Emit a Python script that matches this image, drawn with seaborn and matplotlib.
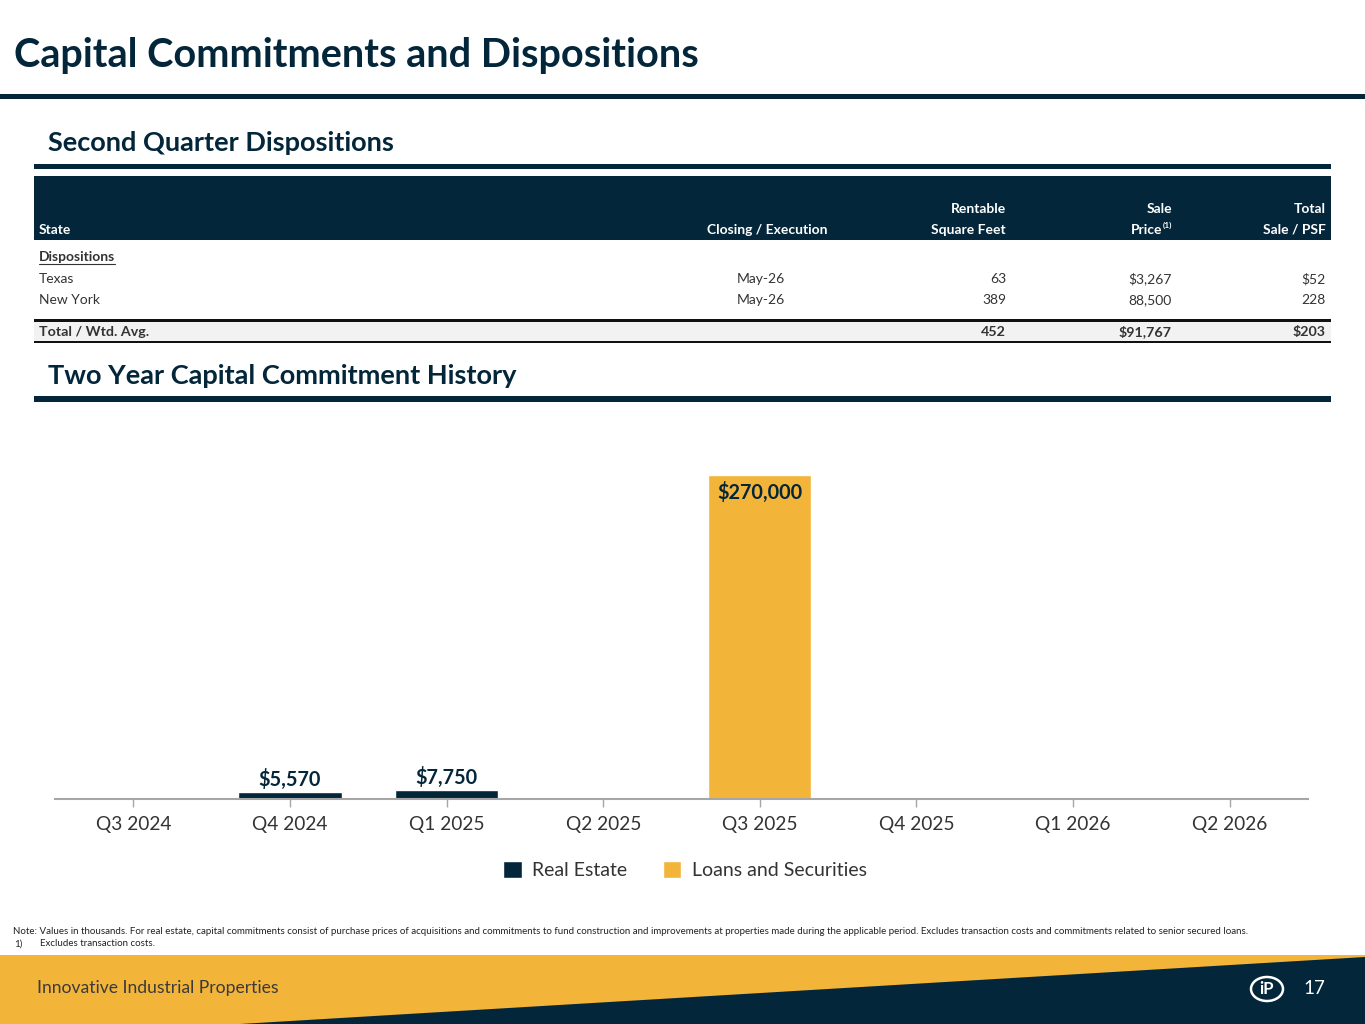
import numpy as np
import pandas as pd
import seaborn as sns
import matplotlib.pyplot as plt
from matplotlib.patches import Rectangle, Polygon, Circle
from matplotlib.lines import Line2D

NAVY = '#03263A'
GOLD = '#F3B43A'
GREY_TXT = '#333333'

# chart data (values in thousands)
quarters = ['Q3 2024', 'Q4 2024', 'Q1 2025', 'Q2 2025',
            'Q3 2025', 'Q4 2025', 'Q1 2026', 'Q2 2026']
real_estate = [0, 5570, 7750, 0, 0, 0, 0, 0]
loans_securities = [0, 0, 0, 0, 270000, 0, 0, 0]
series_names = ['Real Estate', 'Loans and Securities']

# table data
states = ['Texas', 'New York']
closing = ['May-26', 'May-26']
rentable_sf = ['63', '389']
sale_price = ['$3,267', '88,500']
sale_psf = ['$52', '228']
total_row = ['452', '$91,767', '$203']

W, H = 1365, 1024
sns.set_theme(style='white')
plt.rcParams['font.family'] = ['Lato', 'DejaVu Sans']

fig = plt.figure(figsize=(W / 100, H / 100), dpi=100)


def fx(x):
    return x / W


def fy(y):
    return 1 - y / H


def rect(x0, y0, x1, y1, color):
    fig.add_artist(Rectangle((fx(x0), fy(y1)), fx(x1) - fx(x0), fy(y0) - fy(y1),
                             transform=fig.transFigure, color=color, lw=0, zorder=1))


def txt(x, y, s, size=10, weight='normal', color=GREY_TXT, ha='left', va='center', **kw):
    fig.text(fx(x), fy(y), s, fontsize=size, fontweight=weight, color=color,
             ha=ha, va=va, **kw)


# title and rules
txt(14, 55, 'Capital Commitments and Dispositions', size=28.5, weight='bold', color=NAVY)
rect(0, 94, W, 99, NAVY)

txt(48, 143, 'Second Quarter Dispositions', size=19.5, weight='bold', color=NAVY)
rect(34, 164, 1331, 169, NAVY)

# table header
HB = 10
BL = 'center_baseline'
rect(34, 176, 1331, 240, NAVY)
txt(39, 229, 'State', size=HB, weight='bold', color='white', va=BL)
txt(767, 229, 'Closing / Execution', size=HB, weight='bold', color='white', ha='center', va=BL)
txt(1006, 208, 'Rentable', size=HB, weight='bold', color='white', ha='right', va=BL)
txt(1006, 229, 'Square Feet', size=HB, weight='bold', color='white', ha='right', va=BL)
txt(1172, 208, 'Sale', size=HB, weight='bold', color='white', ha='right', va=BL)
txt(1162.5, 229, 'Price', size=HB, weight='bold', color='white', ha='right', va=BL)
txt(1172, 225, '(1)', size=6, weight='bold', color='white', ha='right', va=BL)
txt(1326, 208, 'Total', size=HB, weight='bold', color='white', ha='right', va=BL)
txt(1326, 229, 'Sale / PSF', size=HB, weight='bold', color='white', ha='right', va=BL)

# table body
txt(39, 256, 'Dispositions', size=HB, weight='bold', color=GREY_TXT, va=BL)
fig.add_artist(Line2D([fx(39), fx(115)], [fy(264), fy(264)], transform=fig.transFigure,
                      color=GREY_TXT, lw=0.8))
row_y = [278, 299]
for i, y in enumerate(row_y):
    txt(39, y, states[i], va=BL)
    txt(761, y, closing[i], ha='center', va=BL)
    txt(1006, y, rentable_sf[i], ha='right', va=BL)
    txt(1172, y, sale_price[i], ha='right', va=BL)
    txt(1326, y, sale_psf[i], ha='right', va=BL)

rect(34, 321, 1331, 341, '#F2F2F2')
rect(34, 319, 1331, 321.5, '#111111')
rect(34, 340.5, 1331, 342.5, '#111111')
txt(39, 331, 'Total / Wtd. Avg.', size=10.3, weight='bold', va=BL)
txt(1006, 331, total_row[0], size=10.3, weight='bold', ha='right', va=BL)
txt(1172, 331, total_row[1], size=10.3, weight='bold', ha='right', va=BL)
txt(1326, 331, total_row[2], size=10.3, weight='bold', ha='right', va=BL)

txt(48, 376, 'Two Year Capital Commitment History', size=19.5, weight='bold', color=NAVY)
rect(34, 396, 1331, 402, NAVY)

# bar chart
df = pd.DataFrame({
    'Quarter': quarters * 2,
    'Value': real_estate + loans_securities,
    'Type': [series_names[0]] * len(quarters) + [series_names[1]] * len(quarters),
})

ax_top, ax_bot = 439, 799
ax = fig.add_axes([fx(55), fy(ax_bot), fx(1308) - fx(55), fy(ax_top) - fy(ax_bot)])
sns.barplot(data=df, x='Quarter', y='Value', hue='Type', order=quarters,
            hue_order=series_names, palette=[NAVY, GOLD], dodge=False,
            width=0.66, saturation=1, ax=ax)
ax.set_ylim(0, 300000)
ax.set_xlim(-0.5, len(quarters) - 0.5)
ax.set_xlabel('')
ax.set_ylabel('')
ax.set_yticks([])
ax.patch.set_alpha(0)
for side in ['top', 'right', 'left']:
    ax.spines[side].set_visible(False)
ax.spines['bottom'].set_color('#A6A6A6')
ax.spines['bottom'].set_linewidth(1.5)
ax.tick_params(axis='x', length=6, width=1, color='#A6A6A6', colors='#A6A6A6',
               labelsize=13.8, labelcolor=GREY_TXT, pad=6, bottom=True)

for cont in ax.containers:
    for bar in cont:
        h = bar.get_height()
        if h <= 0:
            continue
        xc = bar.get_x() + bar.get_width() / 2
        if h > 100000:
            ax.text(xc, h - 6000, f'${h:,.0f}', ha='center', va='top',
                    fontsize=14.3, fontweight='bold', color=NAVY)
        else:
            ax.text(xc, h + 1800, f'${h:,.0f}', ha='center', va='bottom',
                    fontsize=14.3, fontweight='bold', color=NAVY)

handles, labels = ax.get_legend_handles_labels()
ax.legend(handles, labels, loc='center', bbox_to_anchor=(fx(685), fy(870)),
          bbox_transform=fig.transFigure, ncol=2, frameon=False, fontsize=14,
          handlelength=0.95, handleheight=0.95, handletextpad=0.55, columnspacing=1.8,
          labelcolor=GREY_TXT)

# footnotes
FN = 7.0
txt(13, 932, 'Note: Values in thousands. For real estate, capital commitments consist of purchase '
    'prices of acquisitions and commitments to fund construction and improvements at properties '
    'made during the applicable period. Excludes transaction costs and commitments related to '
    'senior secured loans.', size=FN, color='#222222')
txt(14, 944, '1)', size=FN, color='#222222')
txt(40, 944, 'Excludes transaction costs.', size=FN, color='#222222')

# footer band
rect(0, 955, W, H, GOLD)
fig.add_artist(Polygon([(fx(240), fy(H)), (fx(W), fy(957)), (fx(W), fy(H))],
                       closed=True, transform=fig.transFigure, color=NAVY, lw=0, zorder=2))
txt(37, 988, 'Innovative Industrial Properties', size=12.6, color='#3A3A3A')
fig.add_artist(Circle((fx(1267), fy(989)), 16 / W, transform=fig.transFigure,
                      fill=False, ec='white', lw=1.8, zorder=3))
fig.text(fx(1267), fy(989), 'iP', fontsize=12, fontweight='bold', color='white',
         ha='center', va='center', zorder=4)
txt(1314, 988, '17', size=13.5, color='white', ha='center')

fig.savefig('out.png', dpi=100)
